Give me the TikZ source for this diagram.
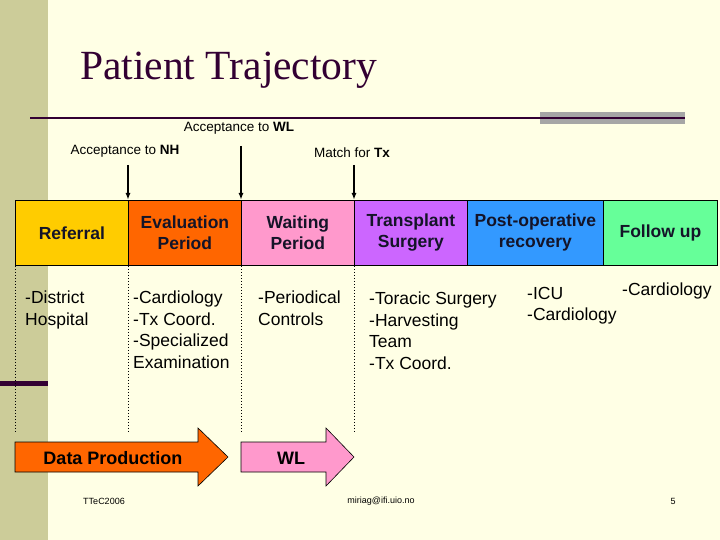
\documentclass[tikz,border=0pt]{standalone}
\usepackage{fontspec}
\setmainfont{Liberation Sans}
\newfontfamily\titlefont{Liberation Serif}
\usetikzlibrary{arrows.meta}
\definecolor{bg}{RGB}{255,255,229}
\definecolor{tan}{RGB}{204,204,153}
\definecolor{plum}{RGB}{51,0,51}
\definecolor{cA}{RGB}{255,204,0}
\definecolor{cB}{RGB}{255,102,0}
\definecolor{cC}{RGB}{255,153,204}
\definecolor{cD}{RGB}{204,102,255}
\definecolor{cE}{RGB}{51,153,255}
\definecolor{cF}{RGB}{102,255,153}
\definecolor{boxtext}{RGB}{20,20,40}
\begin{document}
\begin{tikzpicture}[x=1pt,y=-1pt,
  box/.style={draw=black,line width=0.8pt,minimum height=65pt,inner sep=0pt,font=\fontsize{17.5}{21}\selectfont\bfseries,text=boxtext,align=center,anchor=north west},
  lbl/.style={font=\fontsize{13.5}{15}\selectfont,anchor=south},
  txt/.style={font=\fontsize{17.5}{21.5}\selectfont,align=left,anchor=north west,inner sep=0pt},
  milestone/.style={-{Latex[length=7pt,width=5pt]},line width=1.6pt},
  dot/.style={dotted,line width=1pt}]
\fill[bg] (0,0) rectangle (720,540);
\useasboundingbox (0,0) rectangle (720,540);
\fill[tan] (0,0) rectangle (48,540);
\fill[plum] (0,381) rectangle (48,386);
\node[anchor=west,inner sep=0pt,font=\titlefont\fontsize{41.5}{42}\selectfont,text=plum] (title) at (80,70) {Patient Trajectory};
\draw[line width=1.6pt,plum] (30,118) -- (540,118);
\fill[gray!70] (540,112) rectangle (685,124);
\draw[line width=1.6pt,plum] (540,118) -- (685,118);

\node[box,fill=cA,minimum width=113pt] (b1) at (15,200) {Referral};
\node[box,fill=cB,minimum width=113pt] (b2) at (128,200) {Evaluation\\Period};
\node[box,fill=cC,minimum width=113pt] (b3) at (241,200) {Waiting\\Period};
\node[box,fill=cD,minimum width=113pt] (b4) at (354,200) {Transplant\\Surgery};
\node[box,fill=cE,minimum width=136pt] (b5) at (467,200) {Post-operative\\recovery};
\node[box,fill=cF,minimum width=114pt] (b6) at (603,200) {Follow up};

\node[lbl] (nh) at (125,161) {Acceptance to \textbf{NH}};
\node[lbl] (wl) at (239,138) {Acceptance to \textbf{WL}};
\node[lbl] (tx) at (352,161) {Match for \textbf{Tx}};
\coordinate (a1) at (128,165); \coordinate (a2) at (241,146); \coordinate (a3) at (354,165);
\draw[milestone] (a1) -- (b2.north west);
\draw[milestone] (a2) -- (b3.north west);
\draw[milestone] (a3) -- (b4.north west);

\coordinate (d1) at (15,432); \coordinate (d2) at (128,432); \coordinate (d3) at (241,432); \coordinate (d4) at (354,432);
\draw[dot] (b1.south west) -- (d1);
\draw[dot] (b2.south west) -- (d2);
\draw[dot] (b3.south west) -- (d3);
\draw[dot] (b4.south west) -- (d4);

\node[txt] (t1) at (25,291) {-District\\Hospital};
\node[txt] (t2) at (133,291) {-Cardiology\\-Tx Coord.\\-Specialized\\Examination};
\node[txt] (t3) at (258,291) {-Periodical\\Controls};
\node[txt] (t4) at (369,292) {-Toracic Surgery\\-Harvesting\\Team\\-Tx Coord.};
\node[txt] (t5) at (527,287) {-ICU\\-Cardiology};
\node[txt] (t6) at (622,283) {-Cardiology};

\draw[line width=0.6pt,fill=cB] (15,442) -- (198,442) -- (198,428) -- (228,457) -- (198,486) -- (198,472) -- (15,472) -- cycle;
\node[font=\fontsize{18}{20}\selectfont\bfseries] (dp) at (113,458) {Data Production};
\draw[line width=0.6pt,fill=cC] (241,442) -- (326,442) -- (326,428) -- (354,457) -- (326,486) -- (326,472) -- (241,472) -- cycle;
\node[font=\fontsize{18}{20}\selectfont\bfseries] (wlt) at (291,458) {WL};

\node[font=\fontsize{9}{10}\selectfont] (f1) at (104,501) {TTeC2006};
\node[font=\fontsize{9}{10}\selectfont] (f2) at (381,501) {miriag@ifi.uio.no};
\node[font=\fontsize{9}{10}\selectfont] (f3) at (673,501) {5};
\end{tikzpicture}
\end{document}
